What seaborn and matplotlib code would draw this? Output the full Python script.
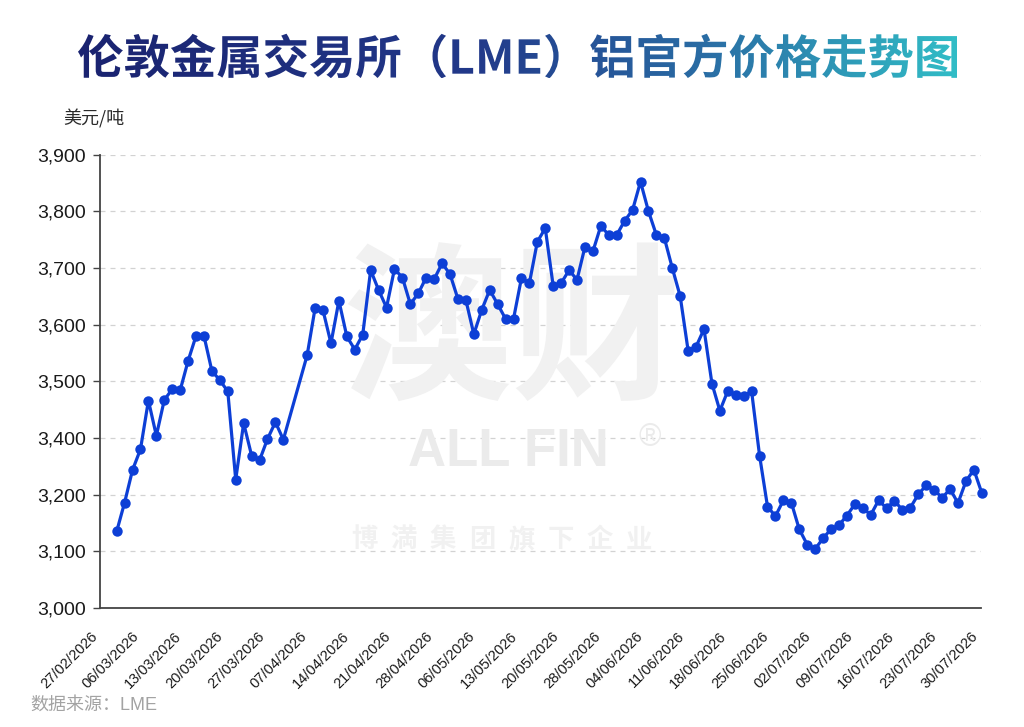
import numpy as np
import pandas as pd
import seaborn as sns
import matplotlib.pyplot as plt
from matplotlib.colors import LinearSegmentedColormap
from matplotlib.font_manager import FontProperties
from matplotlib.patches import PathPatch
from matplotlib.textpath import TextPath
from matplotlib.transforms import Affine2D
from matplotlib.ticker import StrMethodFormatter

# chart texts
title = '伦敦金属交易所（LME）铝官方价格走势图'
unit_label = '美元/吨'
source_note = '数据来源：LME'

# x tick labels (every 5th trading day)
date_labels = ['27/02/2026', '06/03/2026', '13/03/2026', '20/03/2026', '27/03/2026',
               '07/04/2026', '14/04/2026', '21/04/2026', '28/04/2026', '06/05/2026',
               '13/05/2026', '20/05/2026', '28/05/2026', '04/06/2026', '11/06/2026',
               '18/06/2026', '25/06/2026', '02/07/2026', '09/07/2026', '16/07/2026',
               '23/07/2026', '30/07/2026']

# daily official price, USD/t (nan = no quote)
prices_mar = [3135, 3186, 3287, 3360, 3466, 3404, 3467, 3486, 3484, 3536, 3580,
              3580, 3518, 3502, 3482, 3253, 3426, 3338, 3321, 3396, 3428, 3394,
              np.nan, np.nan]
prices_apr_may = [3546, 3629, 3625, 3567, 3642, 3579, 3556, 3582, 3696, 3661,
                  3630, 3698, 3683, 3636, 3655, 3683, 3680, 3708, 3689, 3645]
prices_may_jun = [3643, 3583, 3626, 3661, 3636, 3610, 3610, 3682, 3673, 3746,
                  3770, 3668, 3673, 3696, 3679, 3737, 3729, 3774, 3758, 3758,
                  3783, 3802, 3852, 3800, 3758, 3753, 3700, 3650]
prices_jun_jul = [3554, 3561, 3592, 3496, 3448, 3483, 3476, 3474, 3482, 3338,
                  3179, 3162, 3190, 3186, 3139, 3112, 3104, 3123, 3139]
prices_jul = [3146, 3163, 3183, 3177, 3164, 3190, 3176, 3189, 3173, 3177,
              3201, 3233, 3218, 3194, 3220, 3185, 3247, 3288, 3206]

# y axis as printed on the original (3,300 is skipped)
y_ticks = [3000, 3100, 3200, 3400, 3500, 3600, 3700, 3800, 3900]

prices = prices_mar + prices_apr_may + prices_may_jun + prices_jun_jul + prices_jul
df = pd.DataFrame({'day': np.arange(len(prices)), 'price': prices}).dropna()

sns.set_theme(style='white')
plt.rcParams['font.family'] = ['Liberation Sans', 'Noto Sans CJK SC']

fig = plt.figure(figsize=(10.24, 7.27), dpi=100)
ax = fig.add_axes([100 / 1024, 119 / 727, 881 / 1024, 453.5 / 727])

# faint watermark behind the line
wm = '#f1f1f1'
ax.text(0.467, 0.60, '澳财', transform=ax.transAxes, ha='center', va='center',
        fontsize=122, fontweight='bold', color=wm, family=['Noto Sans CJK SC'], zorder=0.6)
ax.text(0.463, 0.345, 'ALL FIN', transform=ax.transAxes, ha='center', va='center',
        fontsize=38, fontweight='bold', color='#ebebeb', zorder=0.6)
ax.text(0.624, 0.375, '®', transform=ax.transAxes, ha='center', va='center',
        fontsize=22, color='#ebebeb', zorder=0.6)
for i, ch in enumerate('博満集团旗下企业'):
    ax.text(0.30 + i * 0.0445, 0.15, ch, transform=ax.transAxes, ha='center', va='center',
            fontsize=19, fontweight='bold', color=wm, family=['Noto Sans CJK SC'], zorder=0.6)

sns.lineplot(data=df, x='day', y='price', ax=ax, color='#0d3fd6', linewidth=2.3,
             marker='o', markersize=7.5, markeredgewidth=0, clip_on=False, zorder=3)

# the printed axis skips 3,300, so 3,200-3,400 share one grid step
def fwd(v):
    return np.interp(v, [0, 3200, 3400, 10000], [0, 3200, 3300, 9900])

def inv(p):
    return np.interp(p, [0, 3200, 3300, 9900], [0, 3200, 3400, 10000])

ax.set_yscale('function', functions=(fwd, inv))
ax.set_ylim(3000, 3900)
ax.set_yticks(y_ticks)
ax.yaxis.set_major_formatter(StrMethodFormatter('{x:,.0f}'))

x_left, x_right = -2.1, 108.9
ax.set_xlim(x_left, x_right)
ax.set_xticks(np.linspace(x_left, x_right, len(date_labels)))
ax.set_xticklabels(date_labels, rotation=45, ha='right')

ax.set_xlabel('')
ax.set_ylabel('')
ax.set_axisbelow(True)
ax.yaxis.grid(True, color='#d2d2d2', linestyle=(0, (4, 4)), linewidth=0.9)
ax.xaxis.grid(False)
for side in ['top', 'right']:
    ax.spines[side].set_visible(False)
for side in ['left', 'bottom']:
    ax.spines[side].set_color('#444444')
    ax.spines[side].set_linewidth(1.3)
ax.tick_params(axis='y', left=True, length=5, width=1, color='#444444',
               labelsize=14, labelcolor='#1a1a1a', pad=5)
ax.tick_params(axis='x', bottom=False, labelsize=10.5, labelcolor='#1a1a1a', pad=9)

# unit and source
fig.text(63 / 1024, 1 - 119 / 727, unit_label, ha='left', va='center', fontsize=13,
         color='#2a2a2a', family=['Noto Sans CJK SC'])
fig.text(30 / 1024, 1 - 705 / 727, source_note, ha='left', va='center', fontsize=13,
         color='#a3a3a3', family=['Liberation Sans', 'Noto Sans CJK SC'])

# title with left-to-right colour gradient
tax = fig.add_axes([0, 0.86, 1, 0.14])
tax_h = 0.14 * 727
fp = FontProperties(family='Noto Sans CJK SC', weight='bold')
tp = TextPath((0, 0), title, size=40, prop=fp)
size = 40 * 879 / tp.get_extents().width
tp = TextPath((0, 0), title, size=size, prop=fp)
bb = tp.get_extents()
cx, cy = 517.5, (727 - 56) - 0.86 * 727
path = Affine2D().translate(cx - (bb.x0 + bb.x1) / 2, cy - (bb.y0 + bb.y1) / 2).transform_path(tp)
patch = PathPatch(path, facecolor='none', edgecolor='none')
tax.add_patch(patch)
pb = path.get_extents()
cmap = LinearSegmentedColormap.from_list('title', [(0, '#1a2370'), (0.45, '#22398a'),
                                                   (0.72, '#2a6ea5'), (1, '#31bcc6')])
im = tax.imshow(np.linspace(0, 1, 256).reshape(1, -1), cmap=cmap, aspect='auto',
                extent=[pb.x0, pb.x1, pb.y0, pb.y1], interpolation='bicubic')
im.set_clip_path(patch)
tax.set_xlim(0, 1024)
tax.set_ylim(0, tax_h)
tax.axis('off')

fig.savefig('out.png', dpi=100, facecolor='white')
